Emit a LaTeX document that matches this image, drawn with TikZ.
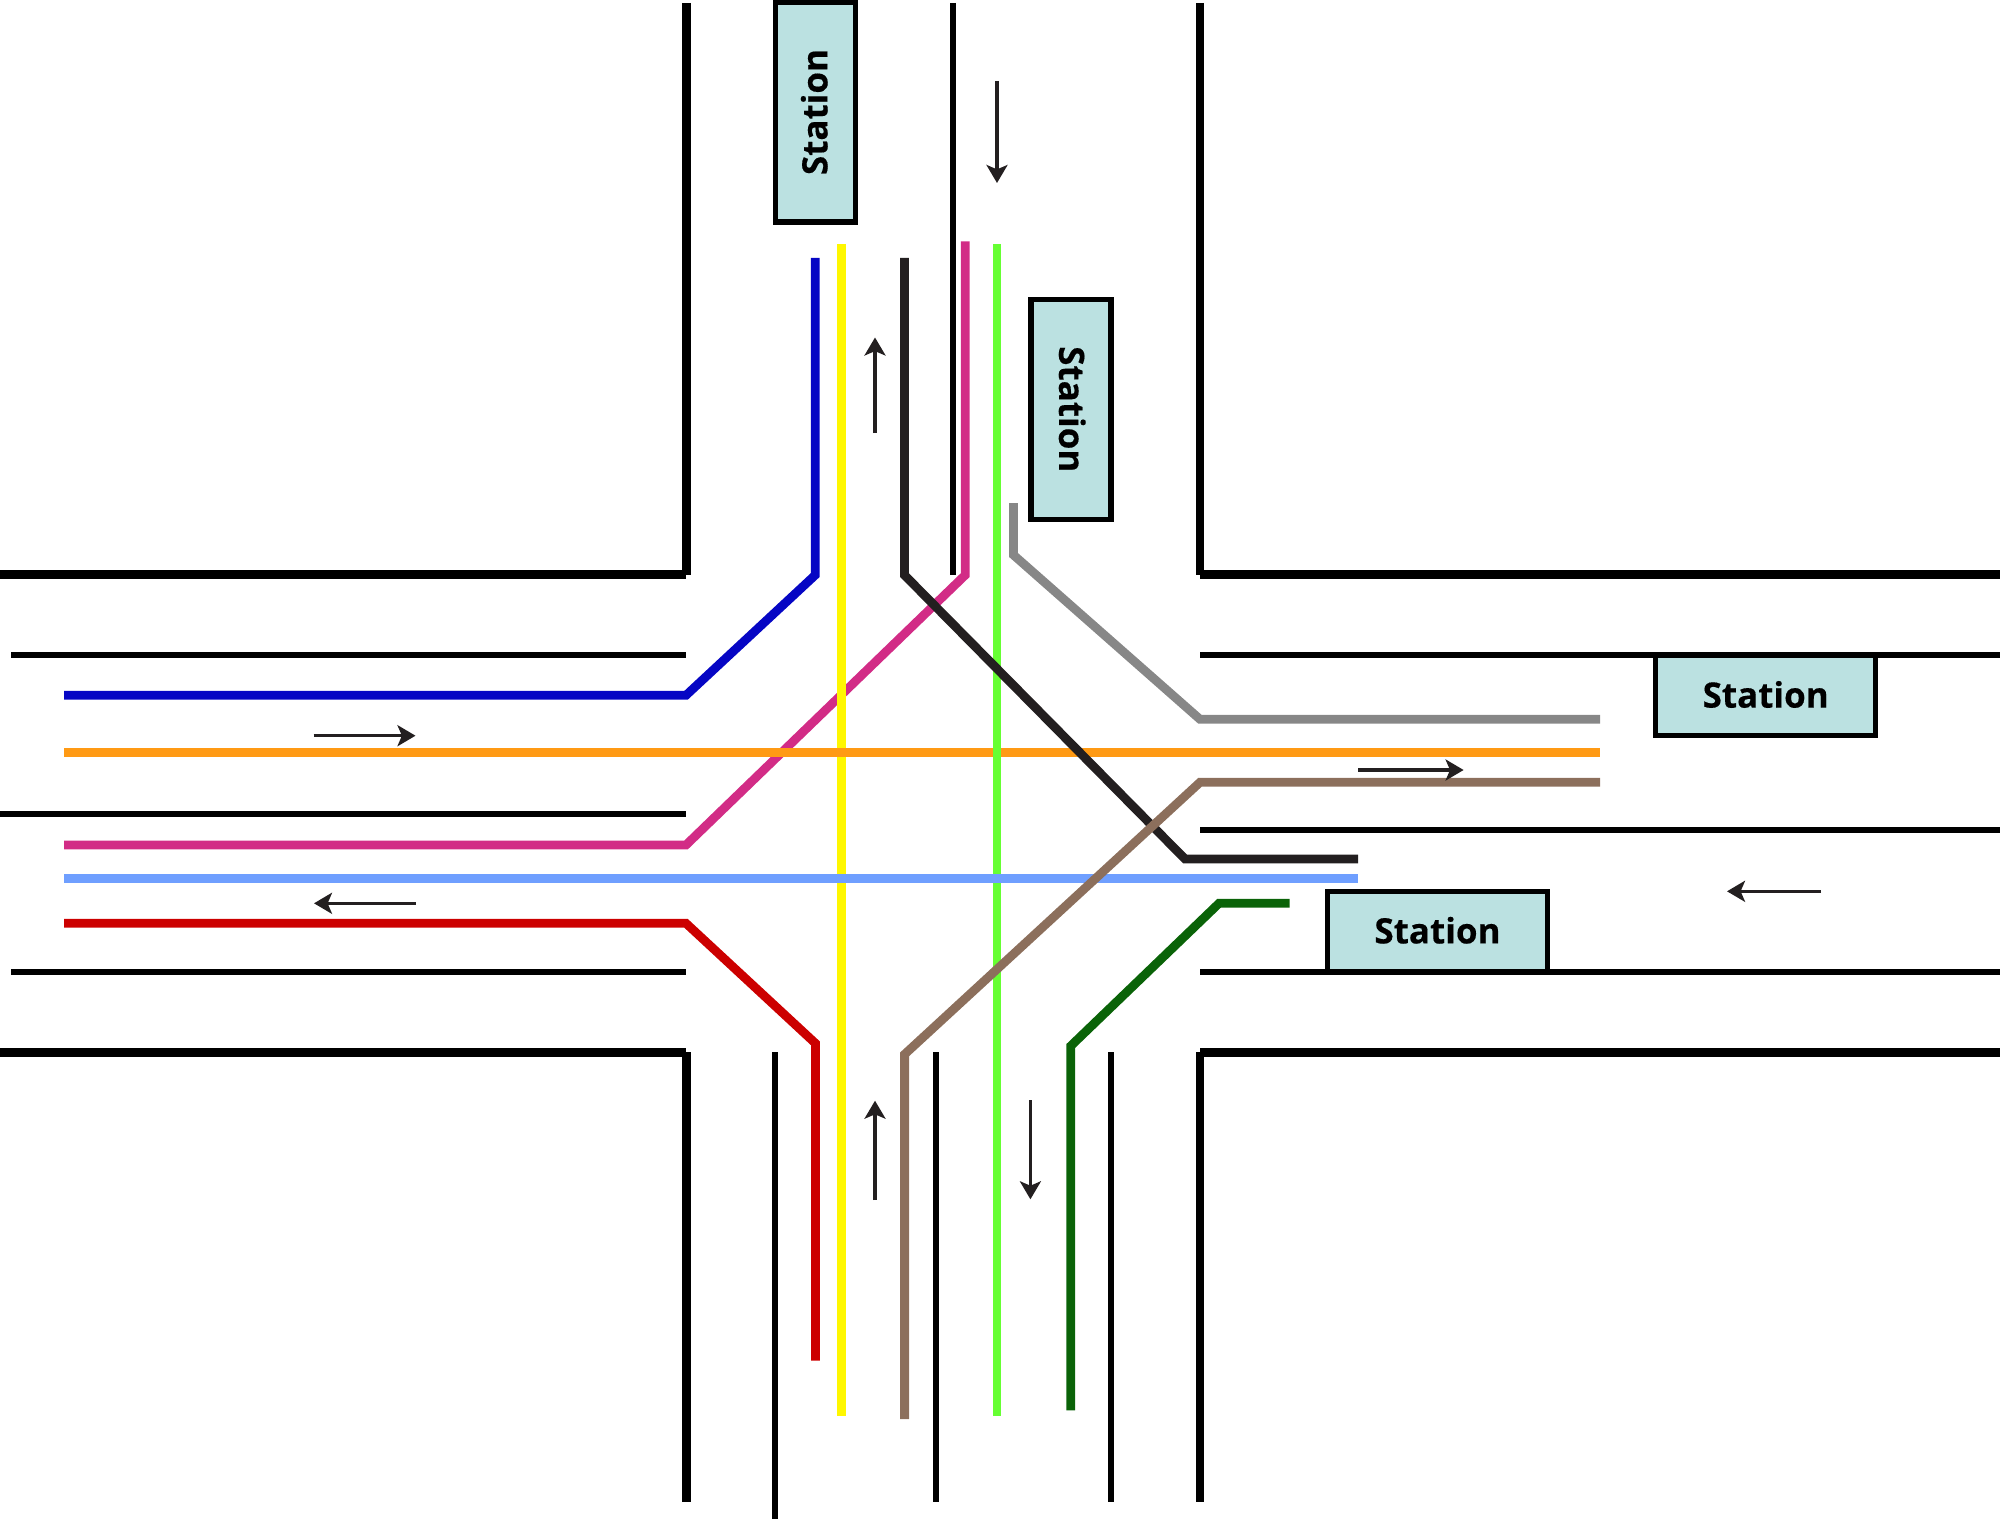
\documentclass[tikz,border=0pt]{standalone}
\usepackage{fontspec}
\setmainfont{Open Sans}[BoldFeatures={FakeBold=0.35}]
\usetikzlibrary{arrows.meta}
\definecolor{kerb}{HTML}{000000}
\definecolor{flowink}{HTML}{231F20}
\definecolor{platform}{HTML}{BBE1E1}
\definecolor{rblue}{HTML}{0606C4}
\definecolor{ryellow}{HTML}{FFF700}
\definecolor{rblack}{HTML}{231F20}
\definecolor{rmagenta}{HTML}{D22C86}
\definecolor{rlime}{HTML}{66FF33}
\definecolor{rgrey}{HTML}{878787}
\definecolor{rorange}{HTML}{FF9A14}
\definecolor{rbrown}{HTML}{8C6F5C}
\definecolor{rsky}{HTML}{6F9FFF}
\definecolor{rred}{HTML}{CC0000}
\definecolor{rforest}{HTML}{0A6308}
\tikzset{
  kerbline/.style={kerb,line width=4.4pt,line cap=butt},
  laneline/.style={kerb,line width=3pt,line cap=butt},
  route/.style={line width=4.4pt,line cap=butt,line join=miter},
  flow/.style={flowink,line width=1.6pt,
    -{Stealth[length=9pt,width=10.5pt,inset=2.2pt]}},
  stationbox/.style={draw=kerb,fill=platform,line width=2.6pt,
    minimum width=110pt,minimum height=40pt,inner sep=0pt,text depth=1.4pt,
    font=\fontsize{17.5}{20}\selectfont\bfseries,text=black},
}
\begin{document}
\begin{tikzpicture}[x=0.5pt,y=-0.5pt]
\useasboundingbox (0,0) rectangle (2000,1519);

% Outer kerbs of the four street corners
\draw[kerbline] (0,574.7) -- (686,574.7);
\draw[kerbline] (686.3,3) -- (686.3,575);
\draw[kerbline] (1200,574.7) -- (2000,574.7);
\draw[kerbline] (1200,3) -- (1200,575);
\draw[kerbline] (0,1052.3) -- (686,1052.3);
\draw[kerbline] (686.3,1052) -- (686.3,1502);
\draw[kerbline] (1200,1052.3) -- (2000,1052.3);
\draw[kerbline] (1200,1052) -- (1200,1502);

% Lane dividers
\draw[laneline] (11,655.3) -- (686,655.3);
\draw[laneline] (0,813.7) -- (686,813.7);
\draw[laneline] (11,972) -- (686,972);
\draw[laneline] (1200,655.3) -- (2000,655.3);
\draw[laneline] (1200,830) -- (2000,830);
\draw[laneline] (1200,971.7) -- (2000,971.7);
\draw[laneline] (952.7,3) -- (952.7,575);
\draw[laneline] (775,1052) -- (775,1519);
\draw[laneline] (935.7,1052) -- (935.7,1502);
\draw[laneline] (1110.7,1052) -- (1110.7,1502);

% Stations
\node[stationbox,rotate=90] (stationN) at (815.5,112) {Station};
\node[stationbox,rotate=-90] (stationS) at (1071,409.3) {Station};
\node[stationbox] (stationE) at (1765.7,695.7) {Station};
\node[stationbox] (stationW) at (1437.5,931.5) {Station};

% Routes that do not cross any other
\draw[route,rblue] (815.3,258) -- (815.3,575) -- (686,695.3) -- (64,695.3);
\draw[route,rgrey] (1013.5,503) -- (1013.5,555) -- (1200,719.3) -- (1600,719.3);
\draw[route,rred] (64,923.3) -- (686,923.3) -- (815.4,1043.3) -- (815.4,1360.7);
\draw[route,rforest] (1070.7,1410.3) -- (1070.7,1046) -- (1219,903.3) -- (1289.6,903.3);

% Crossing routes, lowest first
\draw[route,rmagenta] (965.3,241.5) -- (965.3,575) -- (686,845) -- (64,845);
\draw[route,ryellow] (841.8,244) -- (841.8,1416);
\draw[route,rorange] (64,752.3) -- (1600,752.3);
\draw[route,rlime] (997,244) -- (997,1416);
\draw[route,rsky] (64,878.3) -- (1358,878.3);
\draw[route,rblack] (904.4,258) -- (904.4,575) -- (1185,859) -- (1358,859);
\draw[route,rbrown] (904.6,1419) -- (904.6,1054.3) -- (1200,782.3) -- (1600,782.3);

% Traffic direction arrows
\coordinate (aNa) at (997,81);      \coordinate (aNb) at (997,183);
\coordinate (aNc) at (875,433);     \coordinate (aNd) at (875,337.5);
\coordinate (aSa) at (875,1200);    \coordinate (aSb) at (875,1100.7);
\coordinate (aSc) at (1030.4,1100.3); \coordinate (aSd) at (1030.4,1199.3);
\coordinate (aWa) at (313.6,735.7); \coordinate (aWb) at (415.5,735.7);
\coordinate (aWc) at (415.5,903.3); \coordinate (aWd) at (314,903.3);
\coordinate (aEa) at (1358,770);    \coordinate (aEb) at (1463.6,770);
\coordinate (aEc) at (1821,891.3);  \coordinate (aEd) at (1727,891.3);
\draw[flow] (aNa) -- (aNb);
\draw[flow] (aNc) -- (aNd);
\draw[flow] (aSa) -- (aSb);
\draw[flow] (aSc) -- (aSd);
\draw[flow] (aWa) -- (aWb);
\draw[flow] (aWc) -- (aWd);
\draw[flow] (aEa) -- (aEb);
\draw[flow] (aEc) -- (aEd);
\end{tikzpicture}
\end{document}
